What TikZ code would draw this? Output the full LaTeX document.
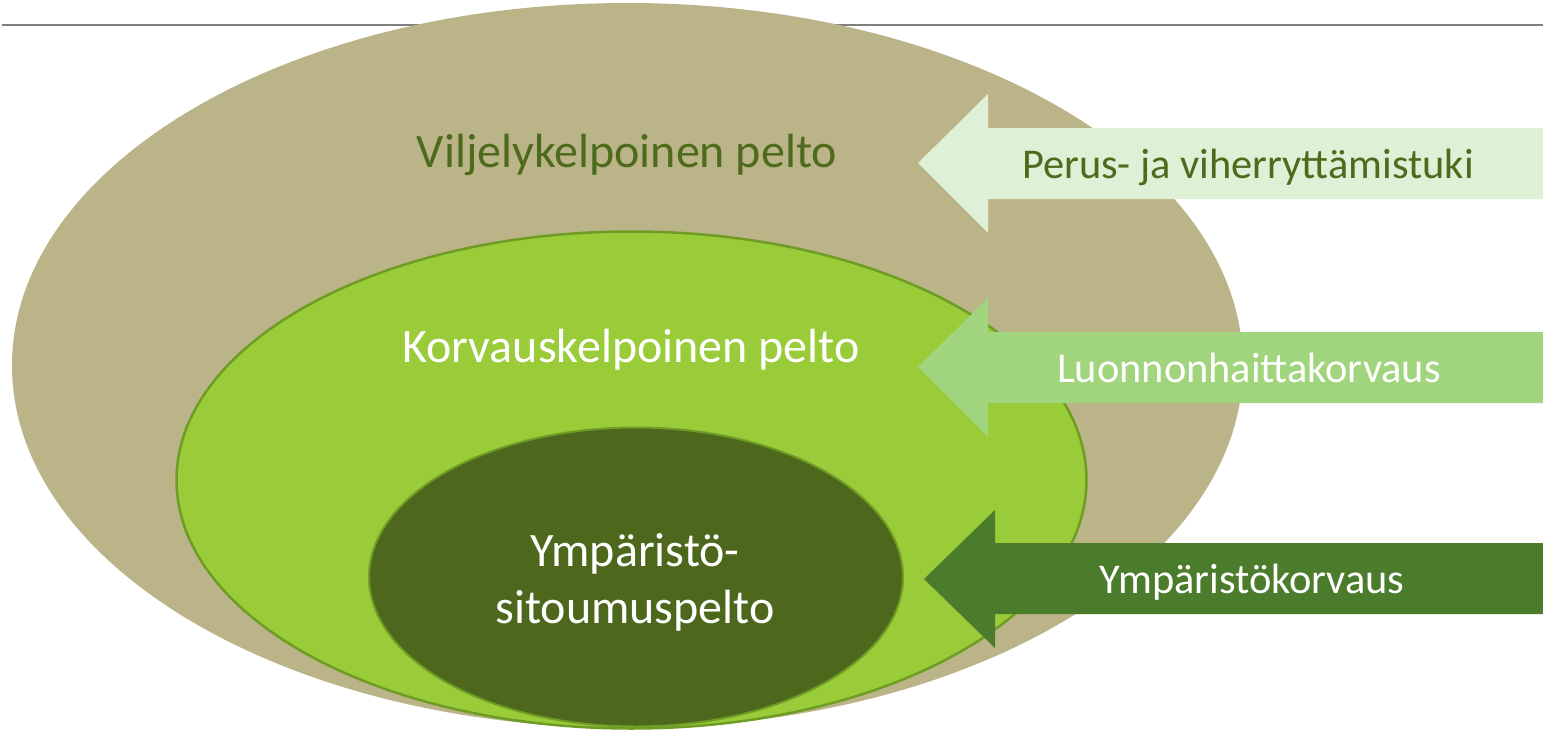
\documentclass[tikz,border=0pt]{standalone}
\usepackage{fontspec}
\setmainfont{Carlito}
\definecolor{tanc}{HTML}{BBB488}
\definecolor{midc}{HTML}{9ACB39}
\definecolor{midline}{HTML}{6E9C25}
\definecolor{innerc}{HTML}{4D681D}
\definecolor{arrowa}{HTML}{DEF0D5}
\definecolor{arrowb}{HTML}{A0D47D}
\definecolor{arrowc}{HTML}{4B7C2B}
\definecolor{olivetext}{HTML}{4E6A1D}
\definecolor{rulec}{HTML}{7F7F7F}
\tikzset{
  bigtext/.style={font=\fontsize{48}{58}\selectfont, anchor=base, inner sep=0pt},
  arrowtext/.style={font=\fontsize{42.4}{50}\selectfont, anchor=base, inner sep=0pt},
  arrowshape/.style={line join=round}
}
\begin{document}
\begin{tikzpicture}[x=1pt,y=-1pt]
\useasboundingbox (0,0) rectangle (1543,731);
\fill[white] (0,0) rectangle (1543,731);
% rule under title
\coordinate (ruleL) at (2,25);
\coordinate (ruleR) at (1543,25);
\draw[rulec, line width=1.5pt] (ruleL) -- (ruleR);
% ellipses
\fill[tanc] (627.5,365.5) ellipse [x radius=615.5, y radius=362.5];
\filldraw[fill=midc, draw=midline, line width=2.5pt] (631.5,480) ellipse [x radius=455, y radius=248.5];
\filldraw[fill=innerc, draw=midline, line width=2pt] (636,577) ellipse [x radius=267, y radius=149.5];
% arrows
\fill[arrowa, arrowshape] (918,163) -- (988,94) -- (988,128) -- (1543,128) -- (1543,199) -- (988,199) -- (988,233) -- cycle;
\fill[arrowb, arrowshape] (918,367) -- (988,298) -- (988,332) -- (1543,332) -- (1543,403) -- (988,403) -- (988,437) -- cycle;
\fill[arrowc, arrowshape] (924,579) -- (995,510) -- (995,543) -- (1543,543) -- (1543,614) -- (995,614) -- (995,648) -- cycle;
% texts
\node[bigtext, text=olivetext] (vilj) at (627,167) {Viljelykelpoinen pelto};
\node[bigtext, text=white] (korv) at (631,362) {Korvauskelpoinen pelto};
\node[bigtext, text=white] (ymp1) at (635,566) {Ympäristö-};
\node[bigtext, text=white] (ymp2) at (635,623) {sitoumuspelto};
\node[arrowtext, text=olivetext] (perus) at (1248,178) {Perus- ja viherryttämistuki};
\node[arrowtext, text=white] (luon) at (1249,382) {Luonnonhaittakorvaus};
\node[arrowtext, text=white] (ympk) at (1252,593) {Ympäristökorvaus};
\end{tikzpicture}
\end{document}
